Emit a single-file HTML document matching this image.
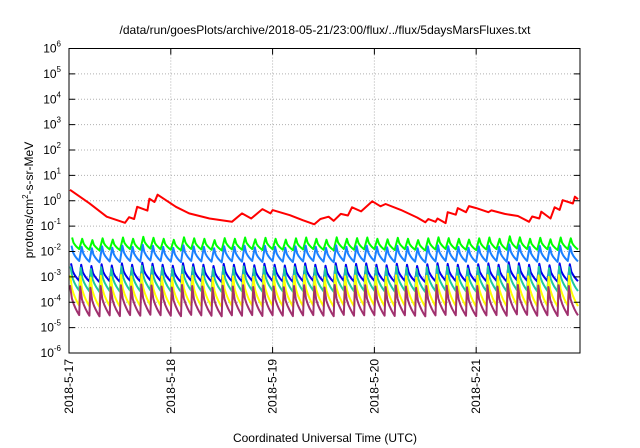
<!DOCTYPE html>
<html><head><meta charset="utf-8"><style>
html,body{margin:0;padding:0;background:#fff;}
svg{display:block;font-family:"Liberation Sans",sans-serif;}
</style></head><body>
<svg id="chart" width="640" height="448" viewBox="0 0 640 448">
<text x="325" y="34" text-anchor="middle" font-size="12">/data/run/goesPlots/archive/2018-05-21/23:00/flux/../flux/5daysMarsFluxes.txt</text>
<g id="grid"></g><g id="series"></g><g id="axes"></g>
<text x="325" y="442" text-anchor="middle" font-size="12">Coordinated Universal Time (UTC)</text>
<text transform="translate(33,200) rotate(-90)" text-anchor="middle" font-size="12">protons/cm<tspan font-size="8" dy="-5">2</tspan><tspan dy="5">-s-sr-MeV</tspan></text>
</svg>
<script>
const xTickLabels=["2018-5-17","2018-5-18","2018-5-19","2018-5-20","2018-5-21"];
const yTickExps=[-6,-5,-4,-3,-2,-1,0,1,2,3,4,5,6];
const redT=[0.01,0.2,0.37,0.55,0.59,0.64,0.67,0.77,0.79,0.84,0.87,1.05,1.18,1.38,1.6,1.7,1.79,1.9,1.98,2.0,2.17,2.3,2.41,2.47,2.55,2.6,2.67,2.74,2.78,2.87,2.98,3.06,3.11,3.26,3.42,3.5,3.53,3.6,3.62,3.7,3.72,3.8,3.82,3.9,3.93,4.0,4.12,4.15,4.28,4.41,4.52,4.55,4.62,4.64,4.73,4.77,4.82,4.85,4.95,4.97,5.0];
const redV=[0.43,-0.1,-0.63,-0.87,-0.65,-0.72,-0.24,-0.39,0.08,-0.05,0.24,-0.24,-0.5,-0.7,-0.83,-0.5,-0.7,-0.33,-0.5,-0.37,-0.57,-0.77,-0.93,-0.72,-0.63,-0.79,-0.52,-0.58,-0.26,-0.42,-0.02,-0.22,-0.13,-0.36,-0.66,-0.85,-0.72,-0.83,-0.7,-0.88,-0.45,-0.55,-0.29,-0.45,-0.21,-0.29,-0.45,-0.38,-0.52,-0.6,-0.83,-0.62,-0.7,-0.43,-0.7,-0.26,-0.36,0.02,-0.11,0.16,0.06];
const cycleStart=[0.0,0.1,0.2,0.3,0.4,0.5,0.6,0.7,0.8,0.9,1.0,1.1,1.2,1.3,1.4,1.5,1.6,1.7,1.8,1.9,2.0,2.1,2.2,2.3,2.4,2.5,2.6,2.7,2.8,2.9,3.0,3.1,3.2,3.3,3.4,3.5,3.6,3.7,3.8,3.9,4.0,4.1,4.2,4.3,4.4,4.5,4.6,4.7,4.8,4.9,5.0];
const cycleOffset=[0.05,0.0,-0.05,0.02,-0.03,0.05,0.0,0.08,0.04,0.0,-0.04,0.06,0.02,0.0,-0.05,0.03,0.0,0.05,-0.02,0.04,0.0,-0.03,0.02,0.05,0.0,-0.04,0.06,0.0,0.03,0.05,0.0,-0.02,0.04,0.0,-0.05,0.02,0.06,0.03,0.0,-0.03,0.02,0.05,0.0,0.1,0.06,0.0,0.04,-0.02,0.05,0.02,0.06];
const seriesNames=["green","light-blue","blue","teal","yellow","purple"];
const seriesColors=["#00ff00","#1a80ff","#0000ee","#1ec8a0","#ffff00","#a0306e"];
const seriesPeak=[-1.5,-1.82,-2.52,-2.64,-2.98,-3.38];
const seriesTrough=[-1.93,-2.4,-3.18,-3.57,-4.16,-4.53];
const seriesRise=[0.03,0.025,0.02,0.015,0.012,0.01];

const L=69,R=580,T=48.5,B=353,D0=0,D1=5.02;
const xs=d=>L+(d-D0)/(D1-D0)*(R-L);
const ys=v=>T+(6-v)/12*(B-T);
const NS="http://www.w3.org/2000/svg";
function mk(tag,parent,attrs){const e=document.createElementNS(NS,tag);for(const k in attrs)e.setAttribute(k,attrs[k]);parent.appendChild(e);return e;}
const grid=document.getElementById('grid'),axes=document.getElementById('axes'),ser=document.getElementById('series');
yTickExps.forEach(p=>{
  const y=ys(p);
  if(p>-6&&p<6){const g=mk('line',grid,{x1:L,x2:R,y1:y,y2:y,stroke:'#b0b0b0','stroke-dasharray':'1,2','stroke-width':1});
  
  }
  mk('line',axes,{x1:L,x2:L+6,y1:y,y2:y,stroke:'#000'});
  mk('line',axes,{x1:R,x2:R-6,y1:y,y2:y,stroke:'#000'});
  const t=mk('text',axes,{x:L-8,y:y+4,'text-anchor':'end','font-size':12});
  
  
  t.innerHTML='10<tspan font-size="8" dy="-6">'+p+'</tspan>';
});
xTickLabels.forEach((lab,i)=>{
  const x=xs(i);
  if(i>0){const g=mk('line',grid,{x1:x,x2:x,y1:T,y2:B,stroke:'#b0b0b0','stroke-dasharray':'1,2','stroke-width':1});
  
  }
  mk('line',axes,{x1:x,x2:x,y1:B,y2:B-6,stroke:'#000'});
  mk('line',axes,{x1:x,x2:x,y1:T,y2:T+6,stroke:'#000'});
  const t=mk('text',axes,{transform:`translate(${x+4},${B+6}) rotate(-90)`,'text-anchor':'end','font-size':12});
  
  
  t.textContent=lab;
});
const frame=mk('rect',axes,{x:L,y:T,width:R-L,height:B-T,fill:'none',stroke:'#000','stroke-width':1});



seriesNames.forEach((nm,si)=>{
  const pts=[];
  for(let c=0;c<cycleStart.length-1;c++){
    const t0=cycleStart[c],t1=cycleStart[c+1];
    const rise=seriesRise[si];
    const pk=seriesPeak[si]+cycleOffset[c],tr=seriesTrough[si]+cycleOffset[c]*0.5;
    pts.push([t0+rise,pk]);
    [0.2,0.4,0.6,0.8,1].forEach(s=>{pts.push([t0+rise+(t1-t0-rise)*s,pk-(pk-tr)*Math.sqrt(s)]);});
  }
  const d=pts.filter(p=>p[0]<=D1).map((p,i)=>(i?'L':'M')+xs(p[0]).toFixed(1)+','+ys(p[1]).toFixed(1)).join('');
  const path=mk('path',ser,{d:d,fill:'none',stroke:seriesColors[si],'stroke-width':2,'stroke-linejoin':'round'});
  
  
});
const rd=redT.map((t,i)=>(i?'L':'M')+xs(t).toFixed(1)+','+ys(redV[i]).toFixed(1)).join('');
const rp=mk('path',ser,{d:rd,fill:'none',stroke:'#ff0000','stroke-width':2,'stroke-linejoin':'round'});


</script>
</body></html>
